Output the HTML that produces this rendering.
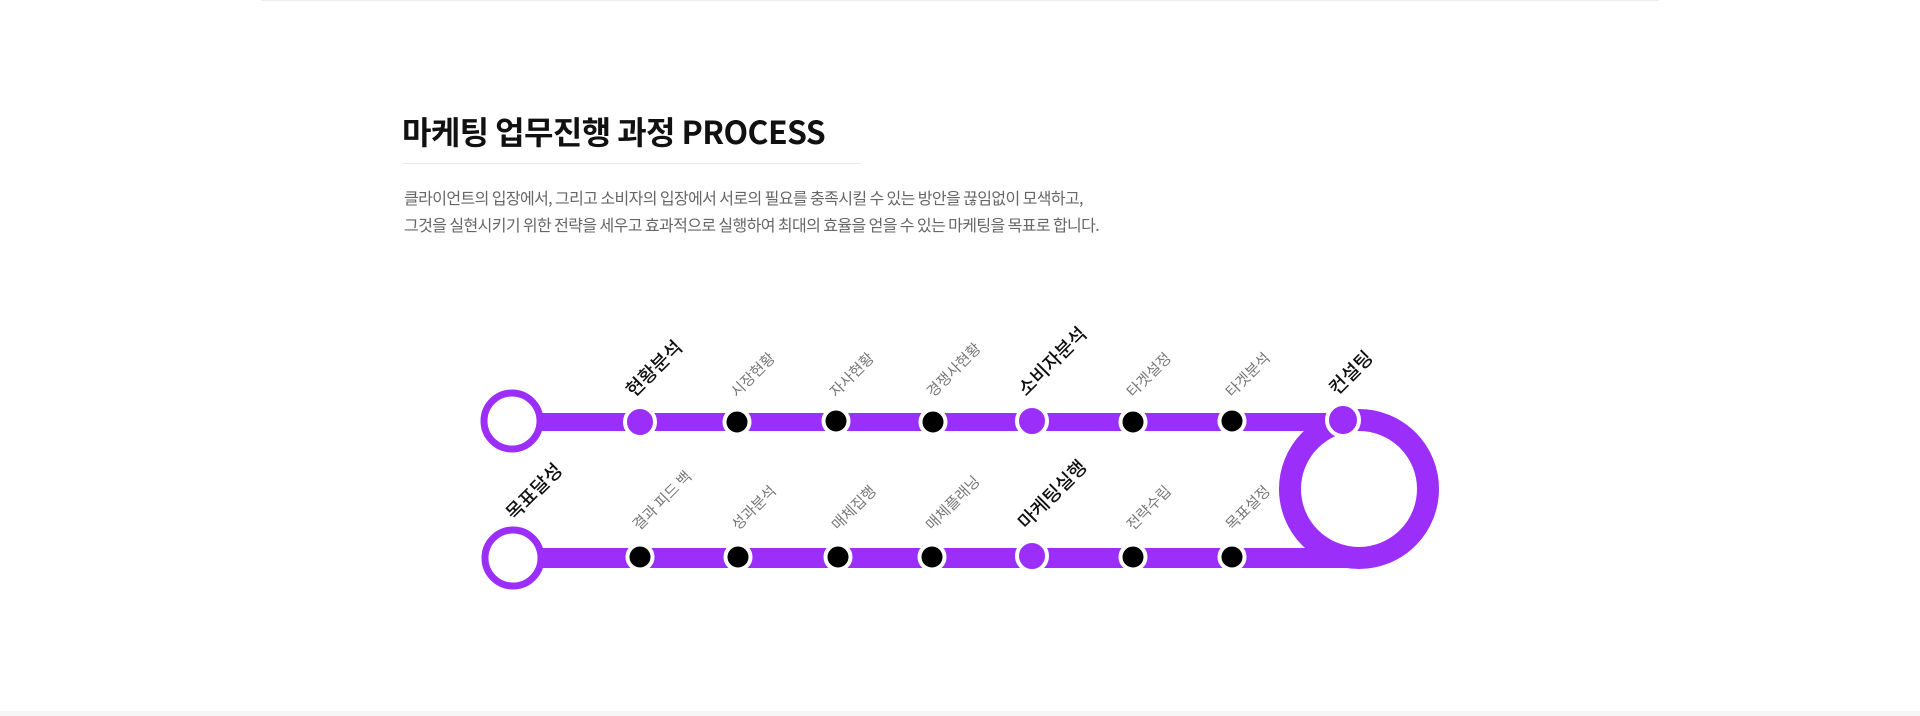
<!DOCTYPE html>
<html><head><meta charset="utf-8"><style>
html,body{margin:0;padding:0;background:#fff;}
body{width:1920px;height:716px;position:relative;overflow:hidden;font-family:"Liberation Sans","Noto Sans CJK KR",sans-serif;}
.topline{position:absolute;left:261px;top:0;width:1398px;height:1px;background:#eee;}
.band{position:absolute;left:0;top:711px;width:1920px;height:5px;background:#f6f6f6;}
h1{position:absolute;left:402px;top:109px;margin:0;font-family:"Noto Sans CJK KR",sans-serif;font-weight:700;font-size:32px;letter-spacing:-0.6px;line-height:44px;color:#111;white-space:nowrap;}
.ul{position:absolute;left:403px;top:163px;width:459px;height:1px;background:#eaeaea;}
p{position:absolute;left:404px;top:184px;margin:0;font-family:"Noto Sans CJK KR",sans-serif;font-size:16px;letter-spacing:-0.6px;line-height:27px;color:#666;white-space:nowrap;}
svg{position:absolute;left:0;top:0;}
</style></head><body>
<div class="topline"></div>
<h1>마케팅 업무진행 과정 PROCESS</h1>
<div class="ul"></div>
<p>클라이언트의 입장에서, 그리고 소비자의 입장에서 서로의 필요를 충족시킬 수 있는 방안을 끊임없이 모색하고,<br>그것을 실현시키기 위한 전략을 세우고 효과적으로 실행하여 최대의 효율을 얻을 수 있는 마케팅을 목표로 합니다.</p>
<svg width="1920" height="716" viewBox="0 0 1920 716" font-family="Noto Sans CJK KR, sans-serif">
<g fill="#9b2ff9">
<rect x="530" y="413" width="830" height="18"/>
<rect x="530" y="548" width="830" height="20"/>
</g>
<circle cx="1359" cy="489" r="69" fill="none" stroke="#9b2ff9" stroke-width="22"/>
<circle cx="512" cy="421" r="28" fill="#fff" stroke="#9b2ff9" stroke-width="7"/>
<circle cx="513" cy="558" r="28" fill="#fff" stroke="#9b2ff9" stroke-width="7"/>
<g stroke="#fff" stroke-width="4">
<circle cx="640" cy="422" r="15" fill="#9b2ff9"/>
<circle cx="737" cy="422" r="12.5" fill="#000"/>
<circle cx="836" cy="421" r="12.5" fill="#000"/>
<circle cx="933" cy="422" r="12.5" fill="#000"/>
<circle cx="1032" cy="421" r="15" fill="#9b2ff9"/>
<circle cx="1133" cy="422" r="12.5" fill="#000"/>
<circle cx="1232" cy="421" r="12.5" fill="#000"/>
<circle cx="1343" cy="420" r="16" fill="#9b2ff9"/>
<circle cx="640" cy="557" r="12.5" fill="#000"/>
<circle cx="738" cy="557" r="12.5" fill="#000"/>
<circle cx="838" cy="557" r="12.5" fill="#000"/>
<circle cx="932" cy="557" r="12.5" fill="#000"/>
<circle cx="1032" cy="556" r="15" fill="#9b2ff9"/>
<circle cx="1133" cy="557" r="12.5" fill="#000"/>
<circle cx="1232" cy="557" r="12.5" fill="#000"/>
</g>
<g font-size="19" fill="#111" font-weight="500">
<text transform="translate(634,398) rotate(-45)">현황분석</text>
<text transform="translate(1026,397) rotate(-45)">소비자분석</text>
<text transform="translate(1337,396) rotate(-45)">컨설팅</text>
<text transform="translate(514,521) rotate(-45)">목표달성</text>
<text transform="translate(1026,530) rotate(-45)">마케팅실행</text>
</g>
<g font-size="15" fill="#777">
<text transform="translate(737,398) rotate(-45)">시장현황</text>
<text transform="translate(836,398) rotate(-45)">자사현황</text>
<text transform="translate(933,398) rotate(-45)">경쟁사현황</text>
<text transform="translate(1133,398) rotate(-45)">타겟설정</text>
<text transform="translate(1232,398) rotate(-45)">타겟분석</text>
<text transform="translate(639,531) rotate(-45)">결과 피드 백</text>
<text transform="translate(738,531) rotate(-45)">성과분석</text>
<text transform="translate(838,531) rotate(-45)">매체집행</text>
<text transform="translate(932,531) rotate(-45)">매체플래닝</text>
<text transform="translate(1133,531) rotate(-45)">전략수립</text>
<text transform="translate(1232,531) rotate(-45)">목표설정</text>
</g>
</svg>
<div class="band"></div>
</body></html>
